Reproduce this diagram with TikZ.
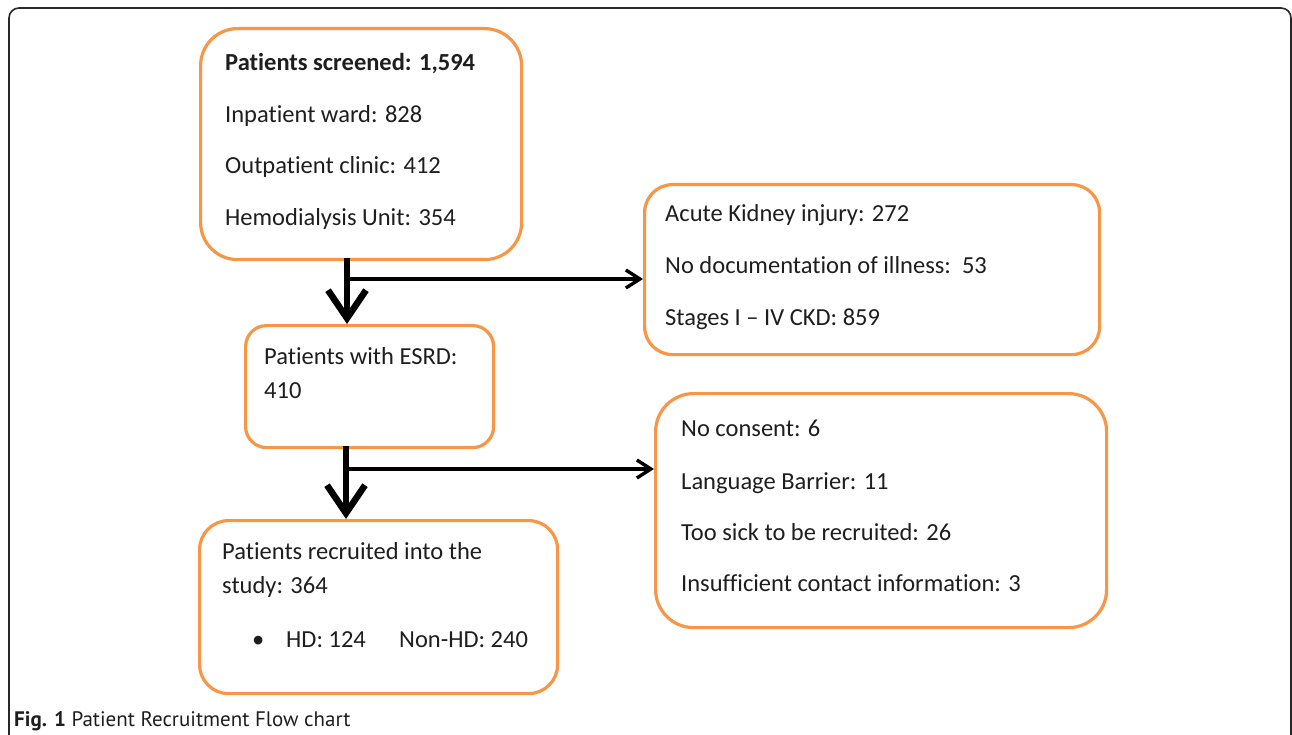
\documentclass[tikz,border=0pt]{standalone}
\usepackage{fontspec}
\setmainfont{Carlito}[Ligatures={NoCommon,NoDiscretionary,NoContextual}]
\newfontfamily\capfont{PT Sans}
\usetikzlibrary{arrows.meta}
\definecolor{boxorange}{RGB}{247,150,70}
\definecolor{txt}{RGB}{30,30,30}
\definecolor{frame}{RGB}{40,40,40}
\tikzset{
  box/.style={draw=boxorange, line width=3.2pt, rectangle, fill=white, anchor=north west, inner sep=0pt},
  line/.style={anchor=base west, inner sep=0pt, text=txt, font=\fontsize{24.5}{28}\selectfont},
  mainarrow/.style={line width=6.5pt, draw=black, -{Straight Barb[length=28pt,width=38pt]}},
  sidearrow/.style={line width=3.4pt, draw=black, -{Straight Barb[length=14pt,width=18pt]}},
}
\begin{document}
\begin{tikzpicture}[x=1pt,y=-1pt]
\useasboundingbox (0,0) rectangle (1292,735);
% outer frame
\draw[frame, line width=1.6pt, rounded corners=10pt] (9,740) -- (9,8) -- (1291,8) -- (1291,740);

% boxes
\node[box, minimum width=321pt, minimum height=231pt, rounded corners=37pt] (b1) at (199,27) {};
\node[box, minimum width=455pt, minimum height=170pt, rounded corners=28pt] (b2) at (643,183) {};
\node[box, minimum width=248pt, minimum height=122pt, rounded corners=21pt] (b3) at (244,324) {};
\node[box, minimum width=451pt, minimum height=234pt, rounded corners=38pt] (b4) at (654,392) {};
\node[box, minimum width=358pt, minimum height=173pt, rounded corners=29pt] (b5) at (198,519) {};

% texts box 1
\node[line, font=\fontsize{24.5}{28}\selectfont\bfseries] (t1a) at (225,71) {Patients screened: 1,594};
\node[line] (t1b) at (225,123) {Inpatient ward: 828};
\node[line] (t1c) at (225,174) {Outpatient clinic: 412};
\node[line] (t1d) at (225,226) {Hemodialysis Unit: 354};
% box 2
\node[line] (t2a) at (665,222) {Acute Kidney injury: 272};
\node[line] (t2b) at (665,273) {No documentation of illness:\ \ 53};
\node[line] (t2c) at (665,325) {Stages I -- IV CKD: 859};
% box 3
\node[line] (t3a) at (264,364) {Patients with ESRD:};
\node[line] (t3b) at (264,398) {410};
% box 4
\node[line] (t4a) at (681,436) {No consent: 6};
\node[line] (t4b) at (681,489) {Language Barrier: 11};
\node[line] (t4c) at (681,540) {Too sick to be recruited: 26};
\node[line] (t4d) at (681,591) {Insufficient contact information: 3};
% box 5
\node[line] (t5a) at (222,559) {Patients recruited into the};
\node[line] (t5b) at (222,593) {study: 364};
\node[line] (t5c) at (252,647) {\textbullet};
\node[line] (t5d) at (286,647) {HD: 124};
\node[line] (t5e) at (399,647) {Non-HD: 240};

% connectors
\coordinate (s1) at (347,258);
\coordinate (j1) at (347,279);
\coordinate (s2) at (346,446);
\coordinate (j2) at (346,469);
\draw[mainarrow] (s1) -- (s1 |- b3.north);
\draw[sidearrow] (j1) -- (j1 -| b2.west);
\draw[mainarrow] (s2) -- (s2 |- b5.north);
\draw[sidearrow] (j2) -- (j2 -| b4.west);

% caption
\node[anchor=base west, inner sep=0pt, text=txt, font=\capfont\fontsize{21}{24}\selectfont] (cap) at (14,726) {\textbf{Fig. 1} Patient Recruitment Flow chart};
\end{tikzpicture}
\end{document}
